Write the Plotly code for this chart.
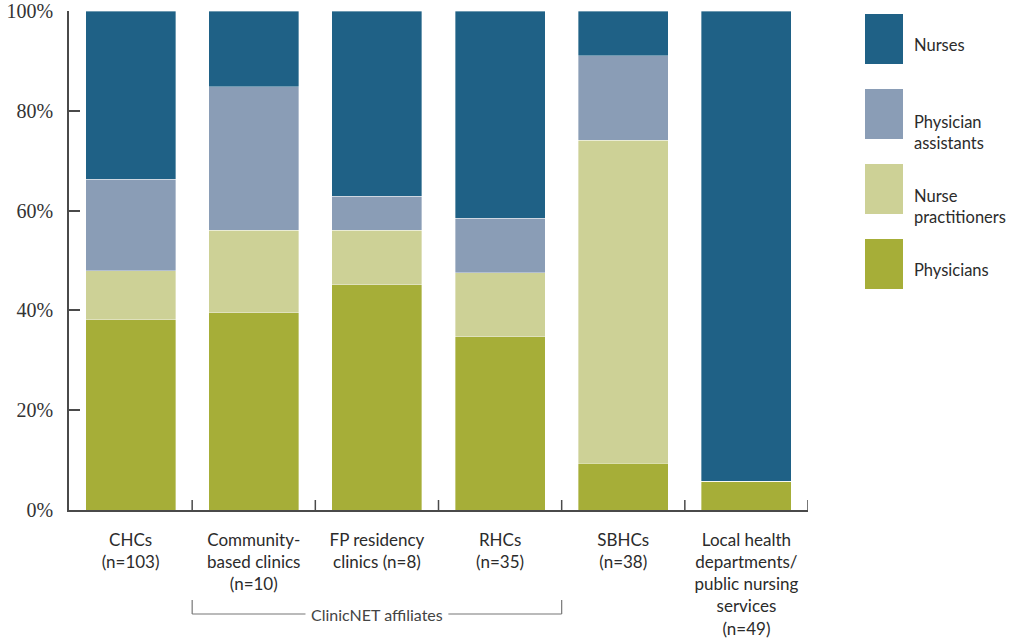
import plotly.graph_objects as go

# Staff composition by clinic type (share of clinicians, %)
categories = [
    "CHCs<br>(n=103)",
    "Community-<br>based clinics<br>(n=10)",
    "FP residency<br>clinics (n=8)",
    "RHCs<br>(n=35)",
    "SBHCs<br>(n=38)",
    "Local health<br>departments/<br>public nursing<br>services<br>(n=49)",
]
physicians = [38.1, 39.5, 45.1, 34.7, 9.4, 5.8]
nurse_practitioners = [9.8, 16.6, 11.0, 12.8, 64.7, 0.0]
physician_assistants = [18.4, 28.7, 6.8, 11.0, 16.9, 0.0]
nurses = [33.7, 15.2, 37.1, 41.5, 9.0, 94.2]

y_ticks = [0, 20, 40, 60, 80, 100]
y_tick_labels = ["0%", "20%", "40%", "60%", "80%", "100%"]

series = [
    ("Physicians", physicians, "#a6ae38"),
    ("Nurse<br>practitioners", nurse_practitioners, "#cdd196"),
    ("Physician<br>assistants", physician_assistants, "#8a9db6"),
    ("Nurses", nurses, "#1f6186"),
]

xs = list(range(len(categories)))
sans = "Lato, 'Open Sans', sans-serif"
label_font = dict(family=sans, size=17, color="#2b2b2b")
axis_col = "#4a4a4a"

fig = go.Figure()
for name, vals, color in series:
    fig.add_trace(go.Bar(
        x=xs, y=vals, name=name,
        marker=dict(color=color, line=dict(color="rgba(255,255,255,0.6)", width=0.6)),
        width=0.73, showlegend=False,
    ))

# Legend drawn as large swatches on the right
legend_order = ["Nurses", "Physician<br>assistants", "Nurse<br>practitioners", "Physicians"]
color_of = {n: c for n, _, c in series}
shapes = []
annotations = []
for i, name in enumerate(legend_order):
    top = 14 + i * 75
    y0 = (510 - (top + 50)) / 499
    y1 = (510 - top) / 499
    x0 = (865 - 69) / 739
    x1 = (903 - 69) / 739
    shapes.append(dict(type="rect", xref="paper", yref="paper", x0=x0, x1=x1, y0=y0, y1=y1,
                       fillcolor=color_of[name], line=dict(width=0)))
    shift = 18 if "<br>" in name else 6
    ytxt = (y0 + y1) / 2 - shift / 499
    annotations.append(dict(xref="paper", yref="paper", x=(912 - 69) / 739, y=ytxt,
                            text=name, showarrow=False, xanchor="left", yanchor="middle",
                            align="left", font=dict(family=sans, size=16.5, color="#2b2b2b")))

# Boundary ticks on the category axis
for b in [x + 0.5 for x in xs]:
    shapes.append(dict(type="line", xref="x", yref="paper", x0=b, x1=b, y0=0, y1=10 / 499,
                       line=dict(color=axis_col, width=1.5), layer="above"))

# ClinicNET affiliates bracket under categories 1-3
yb_top = (510 - 600) / 499
yb_bot = (510 - 614) / 499
bracket = dict(color="#777", width=1.2)
shapes += [
    dict(type="line", xref="x", yref="paper", x0=0.5, x1=0.5, y0=yb_top, y1=yb_bot, line=bracket),
    dict(type="line", xref="x", yref="paper", x0=3.5, x1=3.5, y0=yb_top, y1=yb_bot, line=bracket),
    dict(type="line", xref="x", yref="paper", x0=0.5, x1=1.42, y0=yb_bot, y1=yb_bot, line=bracket),
    dict(type="line", xref="x", yref="paper", x0=2.58, x1=3.5, y0=yb_bot, y1=yb_bot, line=bracket),
]
annotations.append(dict(xref="x", yref="paper", x=2.0, y=yb_bot, text="ClinicNET affiliates",
                        showarrow=False, xanchor="center", yanchor="middle",
                        font=dict(family=sans, size=16, color="#444")))

fig.update_layout(
    barmode="stack",
    width=1013, height=638,
    margin=dict(l=69, r=205, t=11, b=128, autoexpand=False),
    paper_bgcolor="white", plot_bgcolor="white",
    shapes=shapes, annotations=annotations,
    xaxis=dict(
        range=[-0.5, 5.5], tickvals=xs, ticktext=categories, ticks="",
        tickfont=label_font, showline=True, linecolor=axis_col, linewidth=1.5,
        showgrid=False, zeroline=False, automargin=False, ticklabelstandoff=14,
    ),
    yaxis=dict(
        range=[0, 100], tickvals=y_ticks, ticktext=y_tick_labels,
        ticks="inside", ticklen=11, tickcolor=axis_col, tickwidth=1.5,
        tickfont=dict(family="'Liberation Serif', 'DejaVu Serif', serif", size=20, color="#333"),
        showline=True, linecolor=axis_col, linewidth=1.5, showgrid=False, zeroline=False,
        ticklabelstandoff=10, automargin=False,
    ),
)

fig.write_html("out.html")
